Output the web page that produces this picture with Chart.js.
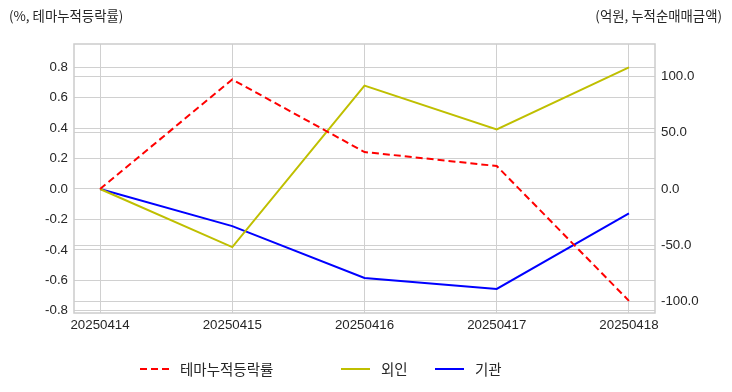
<!DOCTYPE html>
<html>
<head>
<meta charset="utf-8">
<script src="https://cdn.jsdelivr.net/npm/chart.js@4/dist/chart.umd.min.js"></script>
<style>
html,body{margin:0;padding:0;background:#fff;}
#wrap{width:732px;height:392px;position:relative;}
</style>
</head>
<body>
<div id="wrap"><canvas id="c" width="732" height="392"></canvas></div>
<script>
const categories = ['20250414','20250415','20250416','20250417','20250418'];
const themeReturn = [0.0, 0.72, 0.243, 0.151, -0.735];
const foreign = [0.0, -51.5, 91.6, 52.7, 107.8];
const institution = [0.0, -32.9, -78.8, -88.6, -21.6];
const leftTicks = [-0.8, -0.6, -0.4, -0.2, 0.0, 0.2, 0.4, 0.6, 0.8];
const rightTicks = [-100, -50, 0, 50, 100];
const leftTitle = '(%, 테마누적등락률)';
const rightTitle = '(억원, 누적순매매금액)';
const seriesNames = ['테마누적등락률', '외인', '기관'];

const FONT = "'Liberation Sans', 'Noto Sans CJK KR', sans-serif";
const KFONT = "'Noto Sans CJK KR', 'Liberation Sans', sans-serif";
const TEXT = '#262626';
const GRID = '#d0d0d0';

const toXY = arr => arr.map((v, i) => ({x: i, y: v}));

const extras = {
  id: 'extras',
  afterDraw(chart) {
    const ctx = chart.ctx;
    const a = chart.chartArea;
    ctx.save();
    // frame
    ctx.strokeStyle = '#cccccc';
    ctx.lineWidth = 1.5;
    ctx.strokeRect(a.left, a.top, a.right - a.left, a.bottom - a.top);
    // titles
    ctx.fillStyle = TEXT;
    ctx.font = '13.4px ' + KFONT;
    ctx.textBaseline = 'middle';
    ctx.textAlign = 'left';
    ctx.fillText(leftTitle, 9, 16);
    ctx.textAlign = 'right';
    ctx.fillText(rightTitle, 722, 16);
    // legend
    const items = [
      {name: seriesNames[0], color: '#ff0000', dash: [7, 4], x0: 140},
      {name: seriesNames[1], color: '#bfbf00', dash: [], x0: 341},
      {name: seriesNames[2], color: '#0000ff', dash: [], x0: 435}
    ];
    const ly = 369;
    ctx.font = '14.5px ' + KFONT;
    ctx.textAlign = 'left';
    items.forEach(it => {
      ctx.beginPath();
      ctx.setLineDash(it.dash);
      ctx.strokeStyle = it.color;
      ctx.lineWidth = 2;
      ctx.moveTo(it.x0, ly);
      ctx.lineTo(it.x0 + 29, ly);
      ctx.stroke();
      ctx.setLineDash([]);
      ctx.fillStyle = TEXT;
      ctx.fillText(it.name, it.x0 + 40, ly);
    });
    ctx.restore();
  }
};

new Chart(document.getElementById('c'), {
  type: 'line',
  data: {
    datasets: [
      {label: seriesNames[0], data: toXY(themeReturn), yAxisID: 'y', borderColor: '#ff0000', borderWidth: 2, borderDash: [7, 4], pointRadius: 0, tension: 0, fill: false},
      {label: seriesNames[1], data: toXY(foreign), yAxisID: 'y2', borderColor: '#bfbf00', borderWidth: 2, pointRadius: 0, tension: 0, fill: false},
      {label: seriesNames[2], data: toXY(institution), yAxisID: 'y2', borderColor: '#0000ff', borderWidth: 2, pointRadius: 0, tension: 0, fill: false}
    ]
  },
  options: {
    responsive: false,
    animation: false,
    layout: {padding: {top: 44, left: 0, right: 0, bottom: 0}},
    plugins: {legend: {display: false}, tooltip: {enabled: false}},
    scales: {
      x: {
        type: 'linear', min: -0.197, max: 4.197,
        afterBuildTicks: s => { s.ticks = categories.map((c, i) => ({value: i})); },
        afterFit: s => { s.height = 79; },
        ticks: {callback: v => categories[v], color: TEXT, font: {family: FONT, size: 13.3}, padding: 4, maxRotation: 0, autoSkip: false},
        grid: {color: GRID, lineWidth: 1, drawTicks: false},
        border: {display: false}
      },
      y: {
        position: 'left', min: -0.815, max: 0.953,
        afterBuildTicks: s => { s.ticks = leftTicks.map(v => ({value: v})); },
        afterFit: s => { s.width = 74; },
        ticks: {callback: v => v.toFixed(1), color: TEXT, font: {family: FONT, size: 13.3}, padding: 6},
        grid: {color: GRID, lineWidth: 1, drawTicks: false},
        border: {display: false}
      },
      y2: {
        position: 'right', min: -109.9, max: 128.5,
        afterBuildTicks: s => { s.ticks = rightTicks.map(v => ({value: v})); },
        afterFit: s => { s.width = 77; },
        ticks: {callback: v => v.toFixed(1), color: TEXT, font: {family: FONT, size: 13.3}, padding: 6},
        grid: {color: GRID, lineWidth: 1, drawTicks: false},
        border: {display: false}
      }
    }
  },
  plugins: [extras]
});
</script>
</body>
</html>
